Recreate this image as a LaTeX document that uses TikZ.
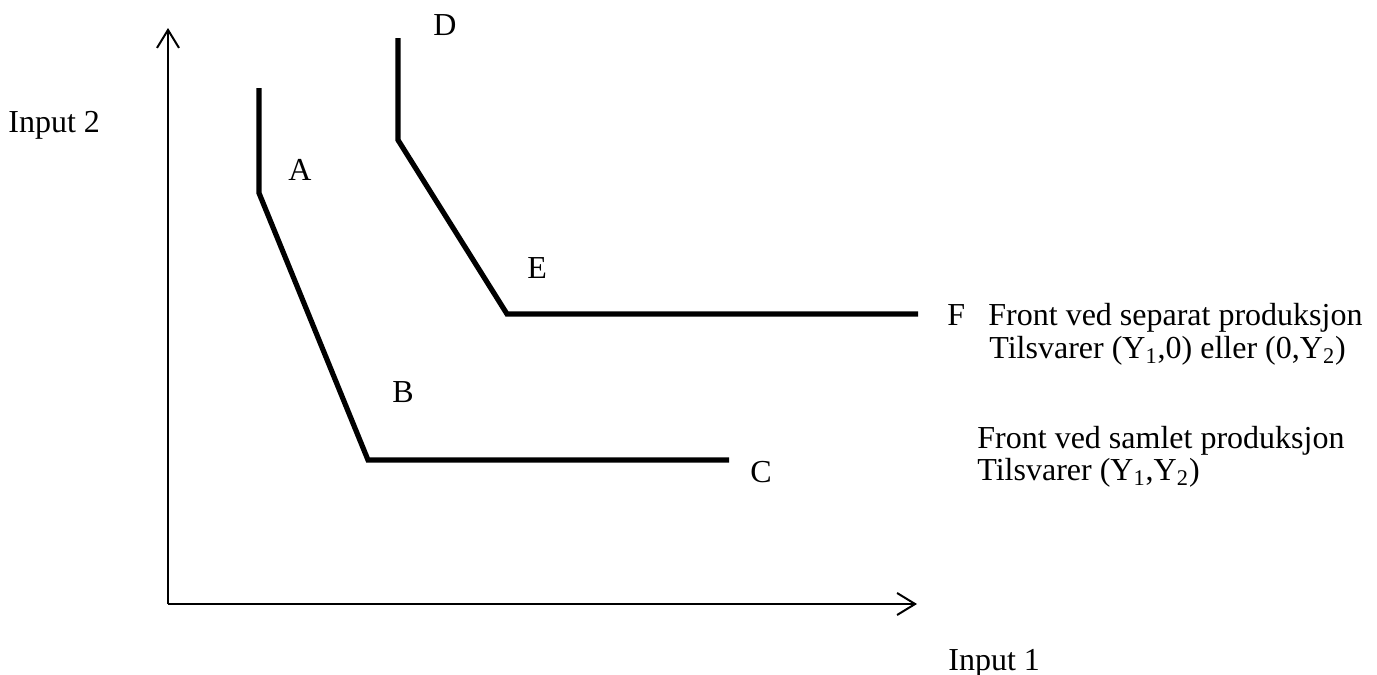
\documentclass[tikz,border=0pt]{standalone}
\usepackage{fontspec}
\setmainfont{Liberation Serif}
\usetikzlibrary{arrows.meta}
\begin{document}
\begin{tikzpicture}[x=0.5pt,y=-0.5pt,
  axis/.style={line width=1pt,-{Straight Barb[length=9pt,width=11pt,line width=1pt]}},
  front/.style={line width=2.6pt,line join=miter,line cap=butt},
  lbl/.style={anchor=base west,inner sep=0pt,font=\fontsize{16pt}{19pt}\selectfont}]
\useasboundingbox (0,0) rectangle (1377,675);
% axes
\coordinate (O) at (168,604);
\coordinate (Ytop) at (168,28);
\coordinate (Xend) at (917,604);
\draw[axis] (O) -- (Ytop);
\draw[axis] (O) -- (Xend);
% joint production front
\coordinate (a0) at (259,88);
\coordinate (a1) at (259,193);
\coordinate (b1) at (368,460);
\coordinate (c1) at (729,460);
\draw[front] (a0) -- (a1) -- (b1) -- (c1);
% separate production front
\coordinate (d0) at (398,38);
\coordinate (d1) at (398,140);
\coordinate (e1) at (507,314);
\coordinate (f1) at (918,314);
\draw[front] (d0) -- (d1) -- (e1) -- (f1);
% labels
\node[lbl] (in2) at (8,132) {Input 2};
\node[lbl] (in1) at (948,670) {Input 1};
\node[lbl] (A) at (288,180) {A};
\node[lbl] (B) at (392,402) {B};
\node[lbl] (C) at (750,482) {C};
\node[lbl] (D) at (433,35) {D};
\node[lbl] (E) at (527,278) {E};
\node[lbl] (F) at (947,325) {F};
\node[lbl] (s1) at (988,325) {Front ved separat produksjon};
\node[lbl] (s2) at (989,358) {Tilsvarer (Y\textsubscript{1},0) eller (0,Y\textsubscript{2})};
\node[lbl] (j1) at (977,448) {Front ved samlet produksjon};
\node[lbl] (j2) at (977,480) {Tilsvarer (Y\textsubscript{1},Y\textsubscript{2})};
\end{tikzpicture}
\end{document}
